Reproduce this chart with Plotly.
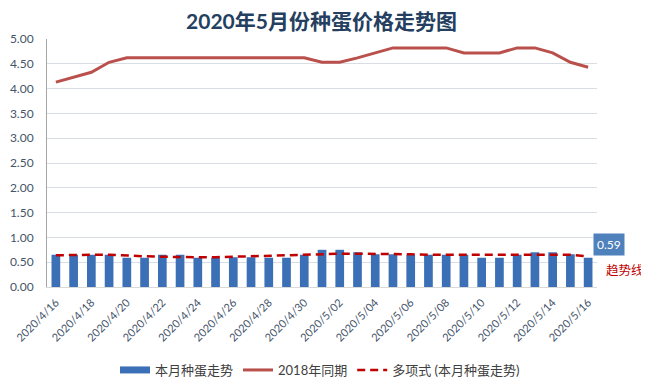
import plotly.graph_objects as go

# ---- data ----
dates = [
    "2020/4/16", "2020/4/17", "2020/4/18", "2020/4/19", "2020/4/20", "2020/4/21",
    "2020/4/22", "2020/4/23", "2020/4/24", "2020/4/25", "2020/4/26", "2020/4/27",
    "2020/4/28", "2020/4/29", "2020/4/30", "2020/5/01", "2020/5/02", "2020/5/03",
    "2020/5/04", "2020/5/05", "2020/5/06", "2020/5/07", "2020/5/08", "2020/5/09",
    "2020/5/10", "2020/5/11", "2020/5/12", "2020/5/13", "2020/5/14", "2020/5/15",
    "2020/5/16",
]
tick_labels = [
    "2020/4/16", "2020/4/18", "2020/4/20", "2020/4/22", "2020/4/24", "2020/4/26",
    "2020/4/28", "2020/4/30", "2020/5/02", "2020/5/04", "2020/5/06", "2020/5/08",
    "2020/5/10", "2020/5/12", "2020/5/14", "2020/5/16",
]
egg_2020 = [
    0.65, 0.65, 0.65, 0.65, 0.59, 0.59, 0.65, 0.65, 0.59, 0.59, 0.60, 0.60,
    0.59, 0.59, 0.65, 0.75, 0.75, 0.70, 0.66, 0.66, 0.65, 0.65, 0.65, 0.65,
    0.59, 0.59, 0.65, 0.70, 0.70, 0.66, 0.59,
]
same_period_2018 = [
    4.13, 4.23, 4.33, 4.53, 4.62, 4.62, 4.62, 4.62, 4.62, 4.62, 4.62, 4.62,
    4.62, 4.62, 4.62, 4.53, 4.53, 4.62, 4.72, 4.82, 4.82, 4.82, 4.82, 4.72,
    4.72, 4.72, 4.82, 4.82, 4.72, 4.53, 4.43,
]
trend_poly = [
    0.64, 0.65, 0.65, 0.65, 0.63, 0.62, 0.61, 0.60, 0.60, 0.60, 0.61, 0.62,
    0.63, 0.64, 0.65, 0.67, 0.67, 0.67, 0.67, 0.66, 0.66, 0.65, 0.65, 0.65,
    0.65, 0.65, 0.65, 0.66, 0.66, 0.65, 0.62,
]
names = ["本月种蛋走势", "2018年同期", "多项式 (本月种蛋走势)"]
title_text = "2020年5月份种蛋价格走势图"
last_label = "0.59"
trend_note = "趋势线"

FONT = "Lato, 'Noto Sans CJK SC', sans-serif"
AXIS_TXT = "#44546A"
BAR_COLOR = "#3B6FB6"

W, H = 641, 382  # page body adds an 8px margin
ML, MR, MT, MB = 39, 52, 31, 103
PW, PH = W - ML - MR, H - MT - MB

fig = go.Figure()
fig.add_trace(go.Bar(
    x=dates, y=egg_2020, name=names[0], showlegend=False,
    marker=dict(color=BAR_COLOR, line=dict(width=0)),
))
# legend key for the bars drawn as a wide flat rectangle (like the original)
fig.add_trace(go.Scatter(
    x=[None], y=[None], name=names[0], mode="lines",
    line=dict(color=BAR_COLOR, width=7),
))
fig.add_trace(go.Scatter(
    x=dates, y=same_period_2018, name=names[1], mode="lines",
    line=dict(color="#B9504C", width=3),
))
fig.add_trace(go.Scatter(
    x=dates, y=trend_poly, name=names[2], mode="lines",
    line=dict(color="#C00000", width=2.5, dash="8px,5px"),
))

fig.add_annotation(
    x=dates[-1], y=egg_2020[-1], text=last_label, showarrow=False,
    xanchor="left", yanchor="bottom", xshift=5, yshift=2,
    bgcolor="#4F81BD", borderpad=3,
    font=dict(family=FONT, size=12, color="white"),
)
fig.add_annotation(
    x=dates[-1], y=trend_poly[-1], text=trend_note, showarrow=False,
    xanchor="left", yanchor="middle", xshift=16, yshift=-14,
    font=dict(family=FONT, size=12.5, color="#C00000"),
)

fig.update_layout(
    width=W, height=H,
    margin=dict(l=ML, r=MR, t=MT, b=MB, autoexpand=False),
    paper_bgcolor="white", plot_bgcolor="white",
    font=dict(family=FONT, color="#404040"),
    bargap=0.51,
    showlegend=True,
    title=dict(
        text="<b>" + title_text + "</b>", x=313.5 / W, xanchor="center",
        y=1 - 14 / H, yanchor="middle",
        font=dict(family=FONT, size=21, color="#243F60"),
    ),
    legend=dict(
        orientation="h", x=(312 - ML) / PW, xanchor="center",
        y=-(362 - (MT + PH)) / PH, yanchor="middle",
        font=dict(family=FONT, size=13, color="#404040"),
        itemwidth=30, traceorder="normal",
    ),
    xaxis=dict(
        type="category", categoryorder="array", categoryarray=dates,
        range=[-0.5, len(dates) - 0.5],
        tickmode="array", tickvals=tick_labels, ticktext=tick_labels,
        tickangle=-45, tickfont=dict(family=FONT, size=11, color=AXIS_TXT),
        showline=True, linecolor="#D9D9D9", linewidth=1,
        showgrid=False, ticks="", ticklabelstandoff=4, automargin=False,
    ),
    yaxis=dict(
        range=[0, 5], dtick=0.5, tickformat=".2f",
        tickfont=dict(family=FONT, size=12, color=AXIS_TXT),
        showgrid=True, gridcolor="#D9DEE5", gridwidth=1,
        showline=True, linecolor="#A6A6A6", linewidth=1,
        zeroline=False, ticks="", ticklabelstandoff=10, automargin=False,
    ),
)

fig.write_html("out.html")
